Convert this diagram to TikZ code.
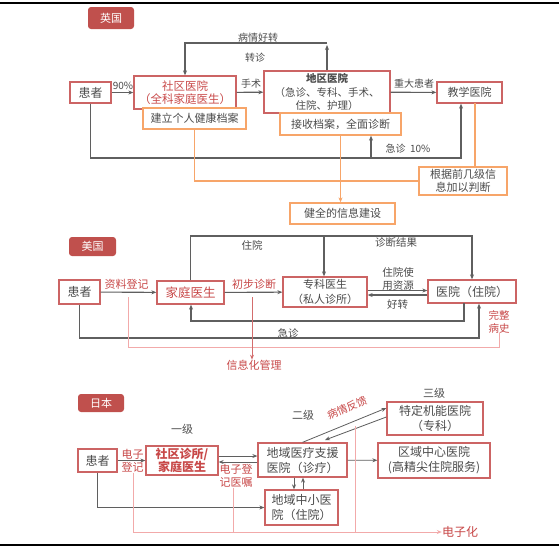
\documentclass[tikz,border=0pt]{standalone}
\usepackage{fontspec}
\setmainfont{Noto Sans CJK SC}
\usetikzlibrary{arrows.meta}
\definecolor{badgec}{RGB}{192,80,77}
\definecolor{rboxc}{RGB}{204,100,100}
\definecolor{oboxc}{RGB}{247,165,105}
\definecolor{glinec}{RGB}{95,95,95}
\definecolor{plinec}{RGB}{242,170,170}
\definecolor{rtextc}{RGB}{200,72,72}
\definecolor{gtextc}{RGB}{75,75,75}
\begin{document}
\begin{tikzpicture}[x=1pt,y=-1pt,
  font=\fontsize{11}{13.5}\selectfont, text=gtextc,
  rbox/.style={draw=rboxc, line width=1.3pt, fill=white, inner sep=0pt, align=center},
  obox/.style={draw=oboxc, line width=1.3pt, fill=white, inner sep=0pt, align=center},
  badge/.style={fill=badgec, rounded corners=3pt, text=white, inner sep=0pt, font=\fontsize{11}{13}\selectfont},
  gl/.style={draw=glinec, line width=1.1pt},
  ol/.style={draw=oboxc, line width=1.1pt},
  pl/.style={draw=plinec, line width=1pt},
  arr/.style={-{Stealth[length=5pt,width=4pt]}},
  lab/.style={inner sep=0pt, text=gtextc, align=center, font=\fontsize{10}{12.5}\selectfont},
  rlab/.style={inner sep=0pt, text=rtextc, align=center, font=\fontsize{11}{13}\selectfont},
  big/.style={font=\fontsize{12}{15}\selectfont}]
\useasboundingbox (0,0) rectangle (559,550);
\fill[white] (0,0) rectangle (559,550);
\draw[black, line width=1.2pt] (0,3) -- (559,3);
\draw[black, line width=2.4pt] (0,545) -- (559,545);

% ---------- UK ----------
\node[badge, minimum width=46pt, minimum height=22pt] (ukb) at (111,18) {英国};
\node[rbox, minimum width=41pt, minimum height=21pt, big] (uk1) at (90.5,92.5) {患者};
\node[rbox, minimum width=102pt, minimum height=33pt, text=rtextc, font=\fontsize{11.5}{13.5}\selectfont] (uk2) at (185,92.5) {社区医院\\（全科家庭医生）};
\node[rbox, minimum width=126pt, minimum height=42pt, font=\fontsize{10.5}{13.5}\selectfont] (uk3) at (327,92) {\textbf{地区医院}\\（急诊、专科、手术、\\住院、护理）};
\node[rbox, minimum width=65pt, minimum height=21pt] (uk4) at (469.5,92.5) {教学医院};
\node[obox, minimum width=103pt, minimum height=21pt] (uk5) at (194.5,118.5) {建立个人健康档案};
\node[obox, minimum width=121pt, minimum height=22pt] (uk6) at (340.5,124) {接收档案，全面诊断};
\node[obox, minimum width=105pt, minimum height=21pt] (uk7) at (342.5,213.5) {健全的信息建设};
\node[obox, minimum width=88pt, minimum height=28pt, font=\fontsize{11}{13}\selectfont] (uk8) at (463,181) {根据前几级信\\息加以判断};

\draw[gl,arr] (uk1) -- (uk2);
\node[lab] (l90) at (123,86) {90\%};
\draw[gl,arr] (uk2) -- (uk3);
\node[lab] (lss) at (251,84) {手术};
\draw[gl,arr] (uk3) -- (uk4);
\node[lab] (lzd) at (414,84) {重大患者};
\coordinate (t1) at (327,43);
\draw[gl,arr] (uk3.north) -- ([yshift=-2pt]t1);
\draw[gl,arr] (t1) -| (uk2.north);
\node[lab] (lbq) at (258,38) {病情好转};
\node[lab] (lzz) at (255,58) {转诊};
\coordinate (b1) at (461,158);
\coordinate (b2) at (371,158);
\draw[gl,arr] (uk1.south) |- (b1) -- (b1 |- uk4.south);
\draw[gl,arr] (b2) -- (b2 |- uk6.south);
\node[lab] (ljz) at (408,149) {急诊\ \ 10\%};
\draw[ol] (uk5.south) |- (uk8.west);
\draw[ol,arr] (uk6.south) -- (uk6.south |- uk7.north);
\coordinate (o1) at (475,103);
\draw[ol] (o1) -- (o1 |- uk8.north);

% ---------- US ----------
\node[badge, minimum width=47pt, minimum height=19pt] (usb) at (92.5,246.5) {美国};
\node[rbox, minimum width=41pt, minimum height=24pt, big] (us1) at (79.5,292) {患者};
\node[rbox, minimum width=67pt, minimum height=23pt, text=rtextc, font=\fontsize{12.5}{15}\selectfont] (us2) at (190.5,292.5) {家庭医生};
\node[rbox, minimum width=84pt, minimum height=30pt, font=\fontsize{11}{15}\selectfont] (us3) at (325,292) {专科医生\\（私人诊所）};
\node[rbox, minimum width=88pt, minimum height=23pt, big] (us4) at (472,291.5) {医院（住院）};

\draw[gl,arr] (us1) -- (us2);
\node[rlab] (lzl) at (126.5,284) {资料登记};
\draw[gl,arr] (us2) -- (us3);
\node[rlab] (lcb) at (254,284) {初步诊断};
\draw[gl,arr] ([yshift=1.5pt]us3.east) -- ([yshift=1.5pt]us3.east -| us4.west);
\draw[gl,arr] ([yshift=-3.5pt]us4.west) -- ([yshift=-3.5pt]us4.west -| us3.east);
\node[lab, font=\fontsize{10.5}{13}\selectfont] (lzy) at (398,278.5) {住院使\\用资源};
\node[lab, font=\fontsize{10.5}{13}\selectfont] (lhz) at (397.5,305) {好转};
\coordinate (u1) at (472,236);
\coordinate (u2) at (324,236);
\draw[gl,arr] (us2.north) |- (u1) -- (us4.north);
\draw[gl,arr] (u2) -- (u2 |- us3.north);
\node[lab, font=\fontsize{10.5}{13}\selectfont] (lzy2) at (252,245) {住院};
\node[lab, font=\fontsize{10.5}{13}\selectfont] (lzdjg) at (396,243) {诊断结果};
\coordinate (u3) at (464,303);
\coordinate (u4) at (191,321);
\draw[gl,arr] (u3) |- (u4) -- (u4 |- us2.south);
\coordinate (u5) at (479,338);
\draw[gl,arr] (us1.south) |- (u5) -- (u5 |- us4.south);
\node[lab, font=\fontsize{10.5}{13}\selectfont] (ljz2) at (288,333) {急诊};
\node[rlab, font=\fontsize{10.5}{13}\selectfont] (lwz) at (499,321.5) {完整\\病史};
\coordinate (p1) at (128,297);
\coordinate (p2) at (499,347);
\draw[pl] (p1) |- (p2) -- (p2 |- lwz.south);
\node[rlab] (lxx) at (254,365) {信息化管理};
\coordinate (p3) at (252,297);
\draw[draw=rtextc!80, line width=0.8pt, arr] (p3) -- (p3 |- lxx.north);

% ---------- Japan ----------
\node[badge, minimum width=46pt, minimum height=18pt] (jpb) at (101,403) {日本};
\node[lab, font=\fontsize{11}{13}\selectfont] (l1j) at (182,429) {一级};
\node[lab, font=\fontsize{11}{13}\selectfont] (l2j) at (303,415) {二级};
\node[lab, font=\fontsize{11}{13}\selectfont] (l3j) at (434,393) {三级};
\node[rbox, minimum width=39pt, minimum height=23pt, big] (jp1) at (97.5,460.5) {患者};
\node[rbox, minimum width=72pt, minimum height=29pt, text=rtextc, font=\fontsize{12}{13.5}\selectfont\bfseries] (jp2) at (182,460.5) {社区诊所/\\家庭医生};
\node[rbox, minimum width=89pt, minimum height=34pt, font=\fontsize{12}{15}\selectfont] (jp3) at (302.5,460) {地域医疗支援\\医院（诊疗）};
\node[rbox, minimum width=73pt, minimum height=35pt, font=\fontsize{12}{15}\selectfont] (jp4) at (301.5,507.5) {地域中小医\\院（住院）};
\node[rbox, minimum width=96pt, minimum height=33pt, font=\fontsize{12}{15}\selectfont] (jp5) at (435,418.5) {特定机能医院\\（专科）};
\node[rbox, minimum width=112pt, minimum height=35pt, font=\fontsize{12}{15}\selectfont] (jp6) at (434,460.5) {区域中心医院\\(高精尖住院服务)};

\draw[gl, line width=0.8pt, arr] (jp1) -- (jp2);
\node[rlab] (ldz) at (132.5,461) {电子\\登记};
\draw[gl, line width=0.8pt, arr] ([yshift=4.5pt]jp2.east) -- ([yshift=4.5pt]jp2.east -| jp3.west);
\draw[gl, line width=0.8pt, arr] ([yshift=-2pt]jp3.west) -- ([yshift=-2pt]jp3.west -| jp2.east);
\node[rlab] (ldzyz) at (236,476) {电子登\\记医嘱};
\draw[gl, line width=0.8pt, arr] (jp3) -- (jp6);
\draw[gl, line width=0.8pt, arr] ([xshift=-8.5pt]jp3.south) -- ([xshift=-8.5pt]jp3.south |- jp4.north);
\draw[gl, line width=0.8pt, arr] ([xshift=1.5pt]jp4.north) -- ([xshift=1.5pt]jp4.north |- jp3.south);
\draw[gl, line width=0.8pt, arr] (jp1.south) |- (jp4.west);
\coordinate (j1) at (325,440);
\draw[gl, line width=0.8pt, arr] (jp3.north) -- ([yshift=10.5pt]jp5.west);
\draw[gl, line width=0.8pt, arr] ([yshift=1.5pt]jp5.west) -- (j1);
\node[rlab, rotate=22, font=\fontsize{10.5}{12}\selectfont] (lbqfk) at (347,408) {病情反馈};
\node[rlab, font=\fontsize{12}{14}\selectfont] (ldzh) at (460,532) {电子化};
\coordinate (q1) at (133,532);
\draw[pl, arr] (q1) -- (ldzh.west);
\draw[pl] (ldz.south -| q1) -- (q1);
\coordinate (q2) at (233,532);
\draw[pl] (q2 |- ldzyz.south) -- (q2);
\coordinate (q3) at (355,532);
\draw[pl] (355,426) -- (q3);
\end{tikzpicture}
\end{document}
